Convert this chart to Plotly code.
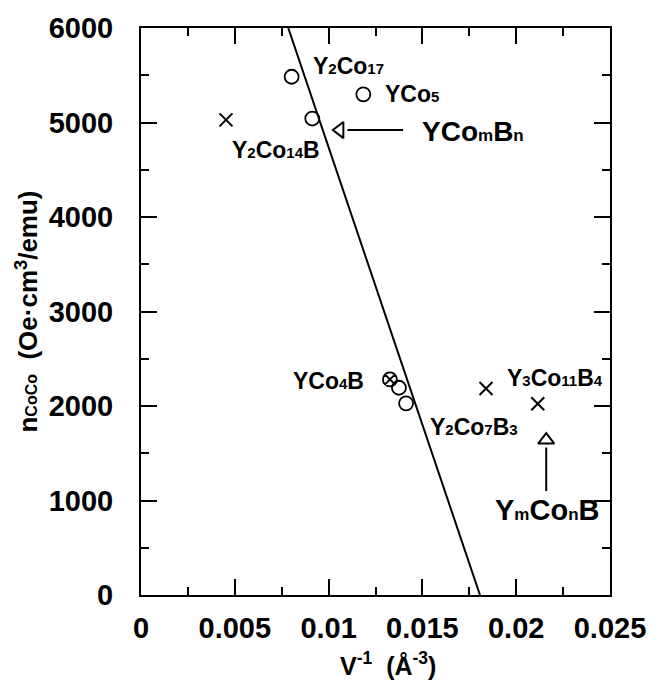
import plotly.graph_objects as go

# ---- data ----
circle_x = [0.00803, 0.01185, 0.00913, 0.01375, 0.01413]
circle_y = [5484, 5298, 5042, 2193, 2028]

cross_x = [0.00453, 0.01839, 0.02115]
cross_y = [5028, 2186, 2024]

crossed_circle_x = [0.01327]
crossed_circle_y = [2281]

fit_line_x = [0.00785, 0.01807]
fit_line_y = [6000, 0]

x_tickvals = [0, 0.005, 0.01, 0.015, 0.02, 0.025]
x_ticktext = ["0", "0.005", "0.01", "0.015", "0.02", "0.025"]
y_tickvals = [0, 1000, 2000, 3000, 4000, 5000, 6000]

S = "<span style='font-size:15px'>{}</span>"
# compound labels: (text, x, y)
labels = [
    ("Y" + S.format("2") + "Co" + S.format("17"), 0.00905, 5600),
    ("YCo" + S.format("5"), 0.0129, 5300),
    ("Y" + S.format("2") + "Co" + S.format("14") + "B", 0.00475, 4705),
    ("YCo" + S.format("4") + "B", 0.0080, 2263),
    ("Y" + S.format("2") + "Co" + S.format("7") + "B" + S.format("3"), 0.0153, 1779),
    ("Y" + S.format("3") + "Co" + S.format("11") + "B" + S.format("4"), 0.0194, 2295),
]

# family labels with arrows
fam1_text = "YCo<span style='font-size:17px'>m</span>B<span style='font-size:17px'>n</span>"
fam1_pos = (0.01487, 4905)
fam1_arrow_x = [0.01100, 0.01397]
fam1_arrow_y = [4920, 4920]
fam1_head = (0.01060, 4920)

fam2_text = "Y<span style='font-size:17px'>m</span>Co<span style='font-size:17px'>n</span>B"
fam2_pos = (0.02164, 895)
fam2_arrow_x = [0.02160, 0.02160]
fam2_arrow_y = [1100, 1560]
fam2_head = (0.02160, 1640)

FONT = "Liberation Sans, Arial, Helvetica, sans-serif"

fig = go.Figure()

fig.add_trace(go.Scatter(x=fit_line_x, y=fit_line_y, mode="lines",
                         line=dict(color="black", width=2), showlegend=False))
fig.add_trace(go.Scatter(x=circle_x, y=circle_y, mode="markers",
                         marker=dict(symbol="circle-open", size=14, color="black",
                                     line=dict(width=1.8, color="black")),
                         showlegend=False))
fig.add_trace(go.Scatter(x=cross_x, y=cross_y, mode="markers",
                         marker=dict(symbol="x-thin-open", size=13, color="black",
                                     line=dict(width=2, color="black")),
                         showlegend=False))
fig.add_trace(go.Scatter(x=crossed_circle_x, y=crossed_circle_y, mode="markers",
                         marker=dict(symbol="circle-x-open", size=14, color="black",
                                     line=dict(width=1.8, color="black")),
                         showlegend=False))

# arrows
fig.add_trace(go.Scatter(x=fam1_arrow_x, y=fam1_arrow_y, mode="lines",
                         line=dict(color="black", width=2), showlegend=False))
fig.add_trace(go.Scatter(x=[fam1_head[0]], y=[fam1_head[1]], mode="markers",
                         marker=dict(symbol="triangle-left-open", size=14, color="black",
                                     line=dict(width=2, color="black")),
                         showlegend=False))
fig.add_trace(go.Scatter(x=fam2_arrow_x, y=fam2_arrow_y, mode="lines",
                         line=dict(color="black", width=2), showlegend=False))
fig.add_trace(go.Scatter(x=[fam2_head[0]], y=[fam2_head[1]], mode="markers",
                         marker=dict(symbol="triangle-up-open", size=14, color="black",
                                     line=dict(width=2, color="black")),
                         showlegend=False))

for txt, x, y in labels:
    fig.add_annotation(x=x, y=y, text=txt, showarrow=False, xanchor="left", yanchor="middle",
                       font=dict(family=FONT, size=23, color="black", weight="bold"))

fig.add_annotation(x=fam1_pos[0], y=fam1_pos[1], text=fam1_text, showarrow=False,
                   xanchor="left", yanchor="middle",
                   font=dict(family=FONT, size=28, color="black", weight="bold"))
fig.add_annotation(x=fam2_pos[0], y=fam2_pos[1], text=fam2_text, showarrow=False,
                   xanchor="center", yanchor="middle",
                   font=dict(family=FONT, size=29, color="black", weight="bold"))

# axis titles
fig.add_annotation(xref="paper", yref="paper", x=0.527, y=-0.122, yanchor="middle",
                   text="V<sup>-1</sup>  (Å<sup>-3</sup>)", showarrow=False,
                   font=dict(family=FONT, size=25, color="black", weight="bold"))
fig.add_annotation(xref="paper", yref="paper", x=-0.243, y=0.5, xanchor="center",
                   textangle=-90,
                   text="n<span style='font-size:16px'>CoCo</span>  (Oe·cm<sup>3</sup>/emu)",
                   showarrow=False,
                   font=dict(family=FONT, size=26, color="black", weight="bold"))

axis_common = dict(showgrid=False, zeroline=False, showline=True, linecolor="black",
                   linewidth=2, mirror="allticks", ticks="inside", ticklen=16,
                   tickwidth=2, tickcolor="black",
                   tickfont=dict(family=FONT, size=29, color="black", weight="bold"))

fig.update_xaxes(range=[0, 0.025], tickvals=x_tickvals, ticktext=x_ticktext,
                 minor=dict(dtick=0.0025, tick0=0, ticks="inside", ticklen=8,
                            tickwidth=2, tickcolor="black"),
                 ticklabelstandoff=6, **axis_common)
fig.update_yaxes(range=[0, 6000], tickvals=y_tickvals,
                 minor=dict(dtick=500, tick0=0, ticks="inside", ticklen=8,
                            tickwidth=2, tickcolor="black"),
                 ticklabelstandoff=20, **axis_common)

fig.update_layout(width=664, height=688, margin=dict(l=141, r=54, t=25, b=93),
                  plot_bgcolor="white", paper_bgcolor="white", showlegend=False)

fig.write_html("out.html")
